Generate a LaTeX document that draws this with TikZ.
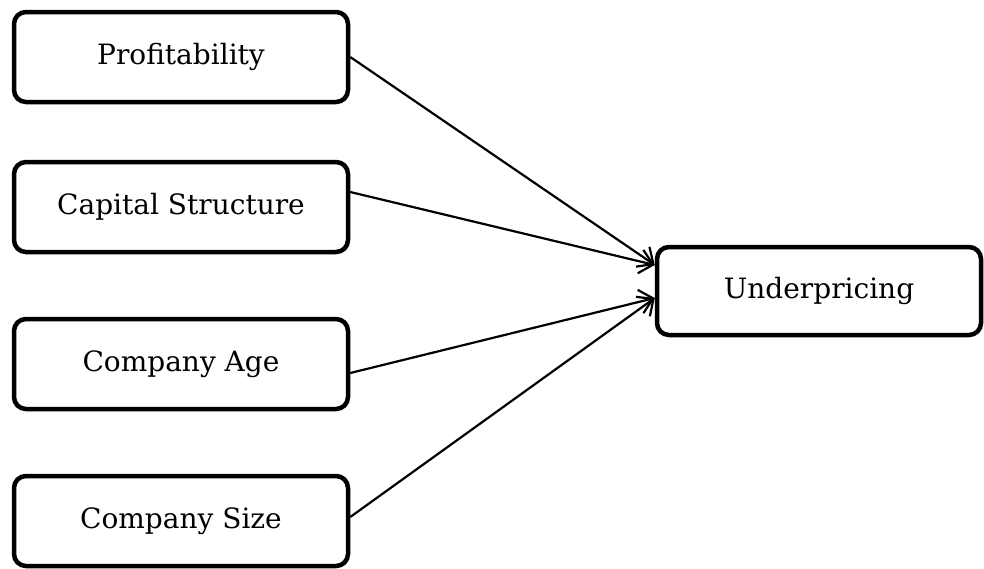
\documentclass[tikz,border=0pt]{standalone}
\usepackage{fontspec}
\setmainfont{DejaVu Serif}
\usetikzlibrary{arrows.meta}
\begin{document}
\begin{tikzpicture}[x=1pt,y=-1pt,
  box/.style={draw, line width=4.5pt, rounded corners=12pt, minimum width=334pt, minimum height=90pt, font=\fontsize{28}{32}\selectfont, inner sep=0pt},
  ubox/.style={box, minimum width=324pt, minimum height=88pt},
  conn/.style={line width=2.2pt, -{Straight Barb[length=13pt,width=24pt,line width=2.2pt]}}]
\useasboundingbox (0,0) rectangle (984,568);
\node[box] (p) at (181,57) {Profitability};
\node[box] (c) at (181,207) {Capital Structure};
\node[box] (a) at (181,364) {Company Age};
\node[box] (s) at (181,521) {Company Size};
\node[ubox] (u) at (819,291) {Underpricing};
\draw[conn] (p.east) -- ([yshift=26pt]u.west);
\draw[conn] ([yshift=15pt]c.east) -- ([yshift=26pt]u.west);
\draw[conn] ([yshift=-9pt]a.east) -- ([yshift=-7pt]u.west);
\draw[conn] ([yshift=4pt]s.east) -- ([yshift=-7pt]u.west);
\end{tikzpicture}
\end{document}
